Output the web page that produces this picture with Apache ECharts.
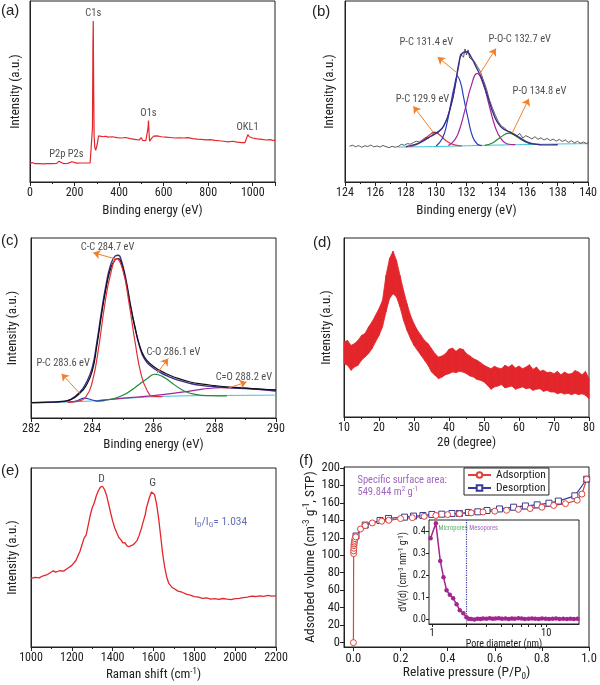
<!DOCTYPE html>
<html><head><meta charset="utf-8">
<script src="https://cdn.jsdelivr.net/npm/echarts@6/dist/echarts.min.js"></script>
<style>html,body{margin:0;padding:0;background:#fff}#c{width:600px;height:685px}</style>
</head><body><div id="c"></div>
<script>
// ---------- DATA ----------
// (a) XPS survey  [binding energy, intensity a.u.]
const surveyA = [[0,10.3],[10,10.8],[20,10.2],[40,10.1],[60,10.0],[80,10.2],[100,10.1],[120,10.3],[130,11.5],[135,10.4],[150,10.2],[170,10.3],[188,11.2],[192,10.3],[210,10.4],[230,10.5],[250,10.5],[270,10.6],[278,11],[280.5,30],[282.5,75],[284,89],[286,50],[288,25],[291,19],[295,17.5],[298,18],[302,21],[308,25.5],[315,26],[330,25],[340,25.3],[350,24.8],[370,25],[390,24.5],[410,24.3],[430,24.6],[450,24],[470,23.6],[490,23.2],[500,24.5],[505,23],[520,22.8],[527,23.5],[530,30],[532,34],[534,28],[537,22.5],[545,24],[555,25.3],[570,25.5],[590,25],[610,24.8],[630,24.6],[650,24.3],[670,24.4],[690,24.3],[710,24.5],[730,24],[750,23.7],[770,23.5],[790,23.3],[810,23.4],[830,23],[850,22.8],[870,22.5],[890,22.2],[910,22.5],[930,22],[950,21.8],[965,21.8],[972,24],[978,26.2],[985,25],[992,25.2],[1000,24.3],[1020,23.8],[1040,23.6],[1060,23.2],[1080,23.4],[1095,22.8],[1100,23.5]];
const labelsA = [[284,93,'C1s'],[532,38,'O1s'],[977,30,'OKL1'],[123,15,'P2p'],[205,15,'P2s']];

// (b) P2p high resolution
const rawB = [[124.3,19.8],[124.5,20.3],[124.7,19.5],[124.9,20.1],[125.1,19.2],[125.3,20.0],[125.5,19.6],[125.7,20.4],[125.9,19.4],[126.1,19.9],[126.3,19.3],[126.5,20.2],[126.7,19.5],[126.9,19.0],[127.1,19.7],[127.3,19.2],[127.5,19.6],[127.7,20.8],[127.9,20.3],[128.1,21.2],[128.3,20.9],[128.5,21.8],[128.7,22.5],[128.9,22.1],[129.1,23.4],[129.3,24.6],[129.5,24.2],[129.7,26.0],[129.9,27.3],[130.1,27.0],[130.3,28.6],[130.5,31.0],[130.7,34.5],[130.9,40.2],[131.1,46.5],[131.3,55.0],[131.4,60.3],[131.5,64.5],[131.6,70.8],[131.7,71.5],[131.8,68.9],[131.9,73.5],[132.0,70.2],[132.1,73.0],[132.2,68.5],[132.3,69.6],[132.5,66.8],[132.7,64.0],[132.9,61.2],[133.1,56.5],[133.3,51.8],[133.5,45.5],[133.7,41.0],[133.9,36.8],[134.1,33.2],[134.3,30.8],[134.5,29.9],[134.7,28.0],[134.9,27.6],[135.1,26.2],[135.3,25.4],[135.5,26.8],[135.7,24.3],[135.9,25.6],[136.1,24.8],[136.3,23.8],[136.5,25.0],[136.7,23.6],[136.9,24.4],[137.1,23.2],[137.3,24.1],[137.5,22.9],[137.7,23.7],[137.9,22.6],[138.1,23.5],[138.3,22.4],[138.5,23.2],[138.7,21.9],[138.9,22.8],[139.1,21.6],[139.3,22.5],[139.5,21.4],[139.7,22.1],[139.9,21.2],[140,21.8]];
const envB = [[128,19.5],[128.5,20.5],[129,22],[129.5,24.5],[130,27],[130.5,31],[131,43],[131.3,56],[131.5,66],[131.7,71],[132,72],[132.3,69],[132.6,64],[133,57],[133.4,47],[133.8,37],[134.2,31],[134.6,28.5],[135,27],[135.5,24.5],[136,22],[136.5,21],[137,20.5],[138,20.6]];
const pc1B = [[128.3,19.6],[128.7,20.6],[129.1,22.6],[129.5,25.5],[129.9,27.6],[130.3,25.5],[130.7,22.5],[131.2,20.5],[131.7,19.9]];
const pc2B = [[130.0,19.9],[130.4,24],[130.7,32],[131.0,45],[131.2,53],[131.4,58.4],[131.6,55],[131.8,47],[132.1,35],[132.4,25],[132.7,21],[133.0,20.1]];
const pocB = [[130.8,20.2],[131.2,23],[131.5,28],[131.9,40],[132.3,53],[132.7,60],[133.1,54],[133.5,42],[133.9,30],[134.3,23.5],[134.7,21],[135.2,20.6]];
const poB = [[133.2,20.2],[133.7,21.5],[134.2,24.5],[134.8,27],[135.3,25],[135.8,22.5],[136.3,21],[136.8,20.8]];
const baseB = [[127.5,19.3],[130,19.6],[132,20.0],[134,20.4],[136,20.7],[138,21.0],[140,21.2]];
const arrowsB = [[131.3,60.8,130.1,69],[132.85,59.5,133.93,73.7],[129.8,27.6,128.5,41.8],[135.0,27,136.1,46]];
const labelsB = [[129.35,77,'P-C 131.4 eV'],[135.5,79,'P-O-C 132.7 eV'],[129.1,45.5,'P-C 129.9 eV'],[136.8,50,'P-O 134.8 eV']];

// (c) C1s high resolution
const rawC = [[282,8.6],[282.5,8.8],[283,9.2],[283.3,10.2],[283.6,13.8],[283.8,18],[284.0,26],[284.15,40],[284.3,57],[284.45,72],[284.6,83],[284.75,88],[284.85,88.6],[284.95,86],[285.1,76],[285.25,62],[285.4,50],[285.55,40],[285.7,34],[285.9,30],[286.2,26.5],[286.5,24],[286.8,22],[287.2,20],[287.6,18.8],[288,18],[288.5,17.2],[289,16.6],[289.5,16],[290,15.6]];
const envC = [[282,8.5],[282.5,8.7],[283,9.1],[283.3,10.4],[283.6,14.5],[283.8,19.5],[284.0,28],[284.15,42],[284.3,59],[284.45,74],[284.6,85],[284.75,90],[284.85,90.4],[284.95,87.5],[285.1,77],[285.25,62.5],[285.4,50],[285.55,39.5],[285.7,33],[285.9,29],[286.2,25.5],[286.5,23],[286.8,21],[287.2,19.2],[287.6,18],[288,17.4],[288.5,16.8],[289,16.3],[289.5,15.8],[290,15.4]];
const ccC = [[283.2,8.6],[283.5,9.2],[283.8,12],[284.0,20],[284.2,38],[284.4,62],[284.6,80],[284.8,88.5],[285.0,82],[285.2,64],[285.4,42],[285.6,24],[285.8,15],[286.0,12],[286.3,11.8]];
const pcC = [[283.2,8.8],[283.5,9.6],[283.75,11],[284.0,10.0],[284.2,9.4],[284.4,9.6]];
const coC = [[284.2,9.6],[284.6,10.4],[285.0,12.6],[285.4,17],[285.8,22],[286.05,24.3],[286.3,23],[286.6,19.5],[287.0,15],[287.4,13],[287.8,12.4],[288.4,12.3]];
const cdoC = [[284.2,9.6],[285,11],[286,12.4],[287,14.5],[287.6,16],[288.2,16.8],[288.8,16.7],[289.4,16],[290,14.8]];
const baseC = [[282,8.3],[283,8.8],[284,9.5],[285,10.8],[286,11.8],[287,12.3],[288,12.5],[289,12.6],[290,12.7]];
const arrowsC = [[284.74,88.5,284.03,91.8],[286.1,24.6,286.48,33],[288.39,16.3,289.04,20],[283.6,13.5,283.0,24.6]];
const labelsC = [[284.5,95,'C-C 284.7 eV'],[286.65,36.7,'C-O 286.1 eV'],[288.95,22.5,'C=O 288.2 eV'],[283.05,30.5,'P-C 283.6 eV']];

// (d) XRD: 2theta and noise-band lower / upper edges
const thetaD = [10,11,12,13,14,15,16,17,18,19,20,21,22,23,24,25,26,27,28,29,30,31,32,33,34,35,36,37,38,39,40,41,42,43,44,45,46,47,48,49,50,51,52,53,54,55,56,57,58,59,60,61,62,63,64,65,66,67,68,69,70,71,72,73,74,75,76,77,78,79,80];
const upperD = [41.9,42.8,40.0,41.0,42.8,45.6,46.6,50.3,53.1,56.8,60.5,65.2,79.1,88.5,92.6,87.5,79.1,70.8,63.3,56.8,52.1,48.4,45.6,42.8,41.0,38.2,35.4,33.5,34.1,35.4,37.8,38.5,36.7,38.2,37.8,35.4,34.1,32.6,31.7,30.4,28.9,27.9,27.0,28.3,27.4,27.0,28.9,27.9,29.2,27.4,28.5,27.0,27.9,29.2,26.6,27.9,25.5,26.1,24.8,25.1,24.2,25.5,23.6,25.1,24.0,24.2,25.9,25.1,23.6,25.5,21.4];
const lowerD = [29.8,28.9,26.1,27.9,28.9,31.7,33.5,35.4,38.2,41.9,45.6,50.3,58.7,66.1,68.9,67.0,61.5,54.0,48.4,43.8,40.0,37.2,34.5,31.7,28.9,25.1,23.3,21.4,22.3,23.6,24.2,25.1,24.8,25.5,25.1,24.2,22.9,22.3,21.0,20.5,19.6,17.7,15.5,16.8,17.3,18.1,16.2,16.8,17.3,15.5,16.2,16.8,15.8,16.2,14.9,15.5,15.8,14.3,14.9,14.0,14.0,13.0,13.6,12.8,13.2,12.5,13.2,12.5,13.0,12.1,10.2];

// (e) Raman
const ramanE = [[1000,38.3],[1020,38.9],[1040,38.6],[1060,39.8],[1080,40.5],[1100,41.9],[1110,42.5],[1120,41.8],[1140,42.6],[1160,42.4],[1180,44.0],[1200,45.6],[1220,48.3],[1240,53.5],[1260,60.8],[1270,62.5],[1280,68.0],[1290,73.6],[1300,77.8],[1310,80.6],[1320,84.5],[1330,87.3],[1340,89.3],[1350,89.8],[1360,88.0],[1370,84.8],[1380,80.0],[1390,75.0],[1400,70.3],[1410,66.6],[1420,63.8],[1430,61.2],[1440,60.0],[1450,58.2],[1460,58.3],[1470,56.5],[1480,56.0],[1490,56.6],[1500,57.0],[1510,58.2],[1520,59.6],[1530,62.5],[1540,66.0],[1550,70.2],[1560,74.0],[1565,77.5],[1570,76.5],[1580,83.5],[1590,86.6],[1597,87.2],[1605,85.2],[1615,80.0],[1625,72.0],[1635,62.0],[1645,52.0],[1655,44.5],[1665,39.0],[1675,35.5],[1690,33.4],[1700,32.7],[1720,31.2],[1740,30.6],[1760,29.5],[1780,29.0],[1800,28.2],[1820,27.9],[1840,27.2],[1860,27.4],[1880,26.8],[1900,27.0],[1920,26.6],[1940,27.1],[1960,26.7],[1980,26.5],[2000,27.0],[2020,27.2],[2040,27.6],[2060,27.9],[2080,28.4],[2100,28.2],[2120,28.6],[2140,28.3],[2160,28.8],[2180,28.4],[2200,28.6]];
const labelsE = [[1346,94,'D'],[1596,91.5,'G']];

// (f) N2 isotherm
const adsF = [[0.0,0],[0.001,102],[0.001,105],[0.002,108],[0.002,111],[0.003,113],[0.004,115],[0.005,117],[0.007,119],[0.01,121],[0.03,130],[0.05,134],[0.08,137],[0.12,139],[0.15,140],[0.2,142],[0.25,143],[0.3,144.5],[0.35,145.5],[0.4,146.5],[0.45,147.5],[0.5,148.5],[0.55,149.5],[0.6,150.5],[0.65,151.5],[0.7,152.5],[0.75,153.5],[0.8,155],[0.85,157],[0.9,159],[0.95,163],[0.97,170],[0.99,187]];
const desF = [[0.011,122],[0.05,134.5],[0.113,139.8],[0.149,142.1],[0.217,143.6],[0.255,144.8],[0.295,145.5],[0.333,146.7],[0.375,147],[0.418,147.8],[0.45,147.8],[0.488,149],[0.528,149.7],[0.567,151.2],[0.62,153],[0.68,155],[0.73,156.4],[0.78,157.7],[0.83,159.6],[0.87,162],[0.94,168],[0.99,187]];
const yTicksF = [0,20,40,60,80,100,120,140,160,180,200];
const xTicksF = [0,0.2,0.4,0.6,0.8,1.0];
// inset: pore size distribution
const poreD = [0.97,1.08,1.18,1.26,1.34,1.43,1.53,1.64,1.75,1.88,2.0,2.1,2.2,2.35,2.5,2.65,2.8,3.0,3.2,3.4,3.6,3.85,4.1,4.4,4.7,5.0,5.3,5.7,6.1,6.5,7.0,7.5,8.0,8.6,9.2,9.9,10.6,11.4,12.2,13.1,14.1,15.2,16.3,17.5,18.8];
const poreV = [0.367,0.435,0.264,0.19,0.13,0.11,0.094,0.067,0.04,0.026,0.008,0.001,0.0,-0.002,0.001,0.0,0.002,0.001,0.003,0.001,0.002,0.003,0.001,0.002,0.0,0.002,0.001,0.003,0.002,0.0,0.001,0.002,0.001,0.0,0.002,0.001,0.0,0.001,0.002,0.0,0.001,0.0,0.001,0.0,0.001];
const yTicksInset = [0,0.1,0.2,0.3,0.4];

// ---------- CHART ----------
const FF = 'Roboto Condensed';
const C_AX = '#222';
const ORANGE = '#f0802a';
const RED = '#e3262b';
const chart = echarts.init(document.getElementById('c'), null, {renderer:'canvas'});

const gridBoxes = [
  {left:30, top:1, width:245, height:181},
  {left:345, top:1, width:244, height:181},
  {left:31, top:238, width:245, height:180},
  {left:344, top:238, width:245, height:179},
  {left:31, top:468, width:245, height:179},
  {left:344, top:467, width:245, height:180},
  {left:429, top:520, width:150, height:104}
];
const grid = gridBoxes.map((g,i)=>Object.assign({show:true, borderColor:C_AX, borderWidth:1, backgroundColor: i===6 ? '#fff' : 'transparent', z: i===6?3:0}, g));

function rich(size, color){
  return {
    sup:{fontSize:size*0.68, verticalAlign:'top', fontFamily:FF, color:color||C_AX, padding:[0,0,size*0.5,0]},
    sub:{fontSize:size*0.68, verticalAlign:'bottom', fontFamily:FF, color:color||C_AX, padding:[size*0.5,0,0,0]}
  };
}
const tickLabel = {fontFamily:FF, fontSize:12, color:C_AX, margin:5, formatter:v=>String(v)};

function xAx(gi, min, max, interval, name, gap, extra){
  return Object.assign({
    type:'value', gridIndex:gi, min, max, interval,
    name, nameLocation:'middle', nameGap:gap,
    nameTextStyle:{fontFamily:FF, fontSize:13, color:C_AX, rich:rich(13)},
    axisLine:{show:true, onZero:false, lineStyle:{color:C_AX, width:1}},
    axisTick:{show:true, length:4, lineStyle:{color:C_AX}},
    minorTick:{show:true, splitNumber:2, length:2, lineStyle:{color:C_AX}},
    axisLabel:tickLabel,
    splitLine:{show:false}, minorSplitLine:{show:false}
  }, extra||{});
}
function yInt(gi, gap){
  return {type:'value', gridIndex:gi, min:0, max:100, name:'Intensity (a.u.)', nameLocation:'middle', nameGap:gap,
    nameTextStyle:{fontFamily:FF, fontSize:13, color:C_AX},
    axisLine:{show:true, onZero:false, lineStyle:{color:C_AX}}, axisTick:{show:false}, axisLabel:{show:false}, splitLine:{show:false}};
}

const xAxis = [
  xAx(0, 0, 1100, 200, 'Binding energy (eV)', 22, {axisLabel:Object.assign({}, tickLabel, {showMaxLabel:false})}),
  xAx(1, 124, 140, 2, 'Binding energy (eV)', 22),
  xAx(2, 282, 290, 2, 'Binding energy (eV)', 20),
  xAx(3, 10, 80, 10, '2θ (degree)', 19),
  xAx(4, 1000, 2200, 200, 'Raman shift (cm{sup|-1})', 20),
  {type:'value', gridIndex:5, min:-0.04, max:1.0, name:'Relative pressure (P/P{sub|0})', nameLocation:'middle', nameGap:17,
    nameTextStyle:{fontFamily:FF, fontSize:13.5, color:C_AX, rich:rich(13.5)},
    axisLine:{show:true, onZero:false, lineStyle:{color:C_AX}},
    axisTick:{show:true, length:4, customValues:xTicksF, lineStyle:{color:C_AX}},
    axisLabel:{fontFamily:FF, fontSize:12.5, color:C_AX, margin:5, customValues:xTicksF, formatter:v=>v.toFixed(1)},
    splitLine:{show:false}},
  {type:'log', gridIndex:6, min:0.94, max:19.4, logBase:10, name:'Pore diameter (nm)', nameLocation:'middle', nameGap:11,
    nameTextStyle:{fontFamily:FF, fontSize:10, color:C_AX},
    axisLine:{show:true, onZero:false, lineStyle:{color:C_AX}},
    axisTick:{show:true, length:3, customValues:[1,2,3,4,5,6,7,8,9,10], lineStyle:{color:C_AX}},
    axisLabel:{fontFamily:FF, fontSize:10.5, color:C_AX, margin:4, customValues:[1,10], formatter:v=>String(Math.round(v))},
    splitLine:{show:false}, minorTick:{show:false}}
];
const yAxis = [
  yInt(0, 8), yInt(1, 9), yInt(2, 12), yInt(3, 11), yInt(4, 12),
  {type:'value', gridIndex:5, min:-5, max:201, name:'Adsorbed volume (cm{sup|-3} g{sup|-1}, STP)', nameLocation:'middle', nameGap:26,
    nameTextStyle:{fontFamily:FF, fontSize:13.5, color:C_AX, rich:rich(13.5)},
    axisLine:{show:true, onZero:false, lineStyle:{color:C_AX}},
    axisTick:{show:true, length:4, customValues:yTicksF, lineStyle:{color:C_AX}},
    axisLabel:{fontFamily:FF, fontSize:12.5, color:C_AX, margin:4, customValues:yTicksF},
    splitLine:{show:false}},
  {type:'value', gridIndex:6, min:-0.023, max:0.45, name:'dV(d) (cm{sup|-3} nm{sup|-1} g{sup|-1})', nameLocation:'middle', nameGap:17,
    nameTextStyle:{fontFamily:FF, fontSize:10, color:C_AX, rich:rich(10)},
    axisLine:{show:true, onZero:false, lineStyle:{color:C_AX}},
    axisTick:{show:true, length:3, customValues:yTicksInset, lineStyle:{color:C_AX}},
    axisLabel:{fontFamily:FF, fontSize:10.5, color:C_AX, margin:3, customValues:yTicksInset, formatter:v=>v.toFixed(1)},
    splitLine:{show:false}}
];

function line(gi, data, color, width, extra){
  return Object.assign({type:'line', xAxisIndex:gi, yAxisIndex:gi, data, showSymbol:false, symbol:'none',
    lineStyle:{color, width:width||1}, itemStyle:{color}, animation:false, z:2}, extra||{});
}
function texts(gi, arr, color, size, extra){
  return Object.assign({type:'scatter', xAxisIndex:gi, yAxisIndex:gi, symbolSize:1, itemStyle:{color:'rgba(0,0,0,0)'},
    data: arr.map(a=>({value:[a[0],a[1]], name:a[2]})), animation:false, silent:true, z:5,
    label:{show:true, position:'inside', formatter:'{b}', fontFamily:FF, fontSize:size, color:color||C_AX}}, extra||{});
}
function arrows(gi, arr){
  return {type:'lines', coordinateSystem:'cartesian2d', xAxisIndex:gi, yAxisIndex:gi, polyline:false,
    symbol:['none','arrow'], symbolSize:7, lineStyle:{color:ORANGE, width:1, opacity:1, curveness:0},
    data: arr.map(a=>({coords:[[a[0],a[1]],[a[2],a[3]]]})), animation:false, silent:true, z:4};
}

const bandD = thetaD.slice(0, -1).map((t,i)=>[t, lowerD[i], upperD[i], thetaD[i+1], lowerD[i+1], upperD[i+1]]);

const series = [
  // (a)
  line(0, surveyA, RED, 1.2),
  texts(0, labelsA, '#222', 10.5),
  // (b)
  line(1, baseB, '#3cc3d6', 1, {smooth:true}),
  line(1, pc1B, '#e0303a', 1.2, {smooth:true}),
  line(1, pc2B, '#2a3fc0', 1.2, {smooth:true}),
  line(1, pocB, '#a3239a', 1.2, {smooth:true}),
  line(1, poB, '#1f8a35', 1.2, {smooth:true}),
  line(1, rawB, '#333', 0.8),
  line(1, envB, '#3d2d8f', 1.4, {smooth:true}),
  arrows(1, arrowsB),
  texts(1, labelsB, '#222', 10.5),
  // (c)
  line(2, baseC, '#3cc3d6', 1, {smooth:true}),
  line(2, cdoC, '#a3239a', 1.2, {smooth:true}),
  line(2, coC, '#1f8a35', 1.2, {smooth:true}),
  line(2, pcC, '#2a3fc0', 1.2, {smooth:true}),
  line(2, envC, '#3d2d8f', 1.4, {smooth:true}),
  line(2, rawC, '#111', 1.2, {smooth:true}),
  line(2, ccC, '#e0303a', 1.2, {smooth:true}),
  arrows(2, arrowsC),
  texts(2, labelsC, '#222', 10.5),
  // (d) noise band
  {type:'custom', xAxisIndex:3, yAxisIndex:3, data:bandD, encode:{x:[0,3], y:[1,2,4,5]}, animation:false, silent:true, z:2,
    renderItem:(params, api)=>{
      const p = [api.coord([api.value(0), api.value(1)]), api.coord([api.value(0), api.value(2)]),
                 api.coord([api.value(3), api.value(5)]), api.coord([api.value(3), api.value(4)])];
      return {type:'polygon', shape:{points:p}, style:{fill:RED, stroke:RED, lineWidth:0.8}};
    }},
  // (e)
  line(4, ramanE, RED, 1.3),
  texts(4, labelsE, '#222', 11.5),
  {type:'scatter', xAxisIndex:4, yAxisIndex:4, symbolSize:1, itemStyle:{color:'rgba(0,0,0,0)'}, data:[[1929,70]], animation:false, silent:true, z:5,
    label:{show:true, position:'inside', formatter:'I{sub|D}/I{sub|G}= 1.034', fontFamily:FF, fontSize:11.5, color:'#3b4ba3',
      rich:rich(11.5, '#3b4ba3')}},
  // (f)
  line(5, desF, '#3a3a96', 1, {name:'Desorption', showSymbol:true, symbol:'rect', symbolSize:6, itemStyle:{color:'#fff', borderColor:'#3a3a96', borderWidth:1}, lineStyle:{color:'#3a3a96', width:1.2}}),
  line(5, adsF, '#e0413a', 1, {name:'Adsorption', showSymbol:true, symbol:'circle', symbolSize:6, itemStyle:{color:'#fff', borderColor:'#e0413a', borderWidth:1}, lineStyle:{color:'#e0413a', width:1.2}}),
  {type:'scatter', xAxisIndex:5, yAxisIndex:5, symbolSize:1, itemStyle:{color:'rgba(0,0,0,0)'}, data:[[0.015,186,'Specific surface area:'],[0.015,172.5,'549.844 m{sup|2} g{sup|-1}']].map(a=>({value:[a[0],a[1]], name:a[2]})), animation:false, silent:true, z:5,
    label:{show:true, position:'right', distance:0, formatter:'{b}', fontFamily:FF, fontSize:10.5, color:'#8a3fb0',
      rich:rich(10.5, '#8a3fb0')}},
  // inset
  line(6, poreD.map((d,i)=>[d, poreV[i]]), '#a3258f', 1.5, {showSymbol:true, symbol:'circle', symbolSize:4.5, itemStyle:{color:'#a3258f'}, z:6,
    markLine:{silent:true, symbol:'none', label:{show:false}, lineStyle:{color:'#3a3a96', type:'dotted', width:1.2}, data:[{xAxis:2}], animation:false}}),
  texts(6, [[1.13,0.41,'Micropores']], '#2f9a3a', 6.5, {z:7, label:{show:true, position:'right', distance:0, formatter:'{b}', fontFamily:FF, fontSize:6.5, color:'#2f9a3a'}}),
  texts(6, [[2.1,0.41,'Mesopores']], '#8a3fb0', 6.5, {z:7, label:{show:true, position:'right', distance:0, formatter:'{b}', fontFamily:FF, fontSize:6.5, color:'#8a3fb0'}})
];

const panelLabels = [['(a)',1,3],['(b)',312,4],['(c)',1,233],['(d)',313,235],['(e)',1,463],['(f)',299,453]];

chart.setOption({
  animation:false,
  backgroundColor:'#fff',
  grid, xAxis, yAxis, series,
  legend:{data:['Adsorption','Desorption'], left:464, top:468, orient:'vertical', itemGap:1, itemWidth:23, itemHeight:7,
    padding:[1,3,1,3], borderColor:'#222', borderWidth:1, backgroundColor:'#fff',
    textStyle:{fontFamily:FF, fontSize:11.5, color:C_AX}},
  graphic: panelLabels.map(p=>({type:'text', left:p[1], top:p[2], style:{text:p[0], fontFamily:'Liberation Sans', fontSize:15, fill:'#222'}}))
});
</script></body></html>
